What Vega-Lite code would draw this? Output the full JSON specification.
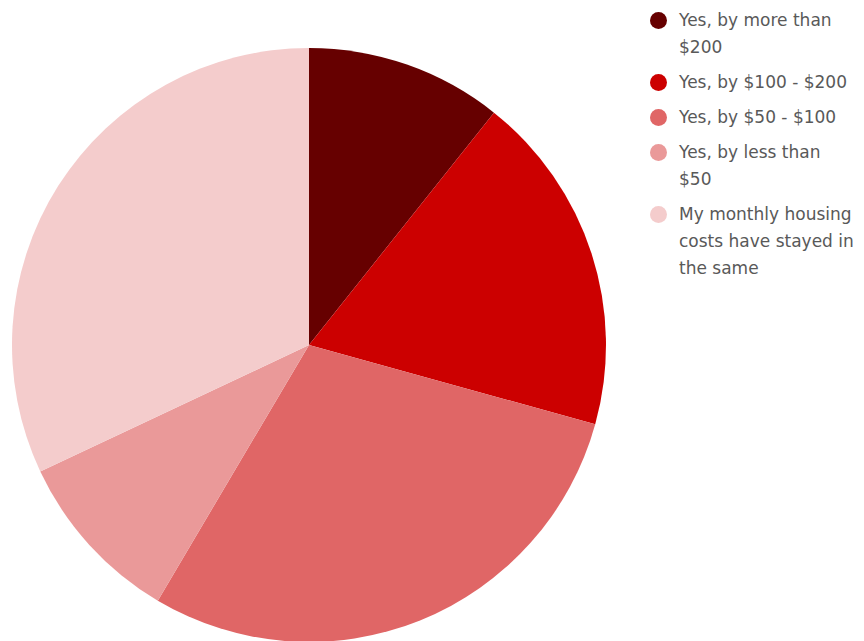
{
  "$schema": "https://vega.github.io/schema/vega-lite/v6.json",
  "width": 618,
  "height": 592,
  "autosize": "none",
  "padding": {"left": 0, "top": 49, "right": 246, "bottom": 0},
  "background": "white",
  "data": {"values": [
    {"answer": "Yes, by more than $200", "order": 1, "share": 10.7},
    {"answer": "Yes, by $100 - $200", "order": 2, "share": 18.6},
    {"answer": "Yes, by $50 - $100", "order": 3, "share": 29.2},
    {"answer": "Yes, by less than $50", "order": 4, "share": 9.5},
    {"answer": "My monthly housing costs have stayed in the same", "order": 5, "share": 32.0}
  ]},
  "mark": {"type": "arc", "outerRadius": 297},
  "encoding": {
    "theta": {"field": "share", "type": "quantitative", "stack": true},
    "order": {"field": "order", "type": "quantitative", "sort": "ascending"},
    "color": {
      "field": "answer",
      "type": "nominal",
      "sort": null,
      "scale": {
        "domain": ["Yes, by more than $200", "Yes, by $100 - $200", "Yes, by $50 - $100", "Yes, by less than $50", "My monthly housing costs have stayed in the same"],
        "range": ["#660000", "#cc0000", "#e06666", "#ea9999", "#f4cccc"]
      },
      "legend": {
        "title": null,
        "orient": "none",
        "legendX": 650,
        "legendY": -37,
        "padding": 0,
        "symbolType": "circle",
        "symbolSize": 289,
        "symbolStrokeWidth": 0,
        "labelFont": "DejaVu Sans",
        "labelFontSize": 17,
        "labelColor": "#595959",
        "labelOffset": 12,
        "labelLimit": 300,
        "rowPadding": 17,
        "encode": {"labels": {"update": {"lineHeight": {"value": 27}}}},
        "labelExpr": "datum.label == 'Yes, by more than $200' ? ['Yes, by more than', '$200'] : datum.label == 'Yes, by less than $50' ? ['Yes, by less than', '$50'] : datum.label == 'My monthly housing costs have stayed in the same' ? ['My monthly housing', 'costs have stayed in', 'the same'] : datum.label"
      }
    }
  }
}
